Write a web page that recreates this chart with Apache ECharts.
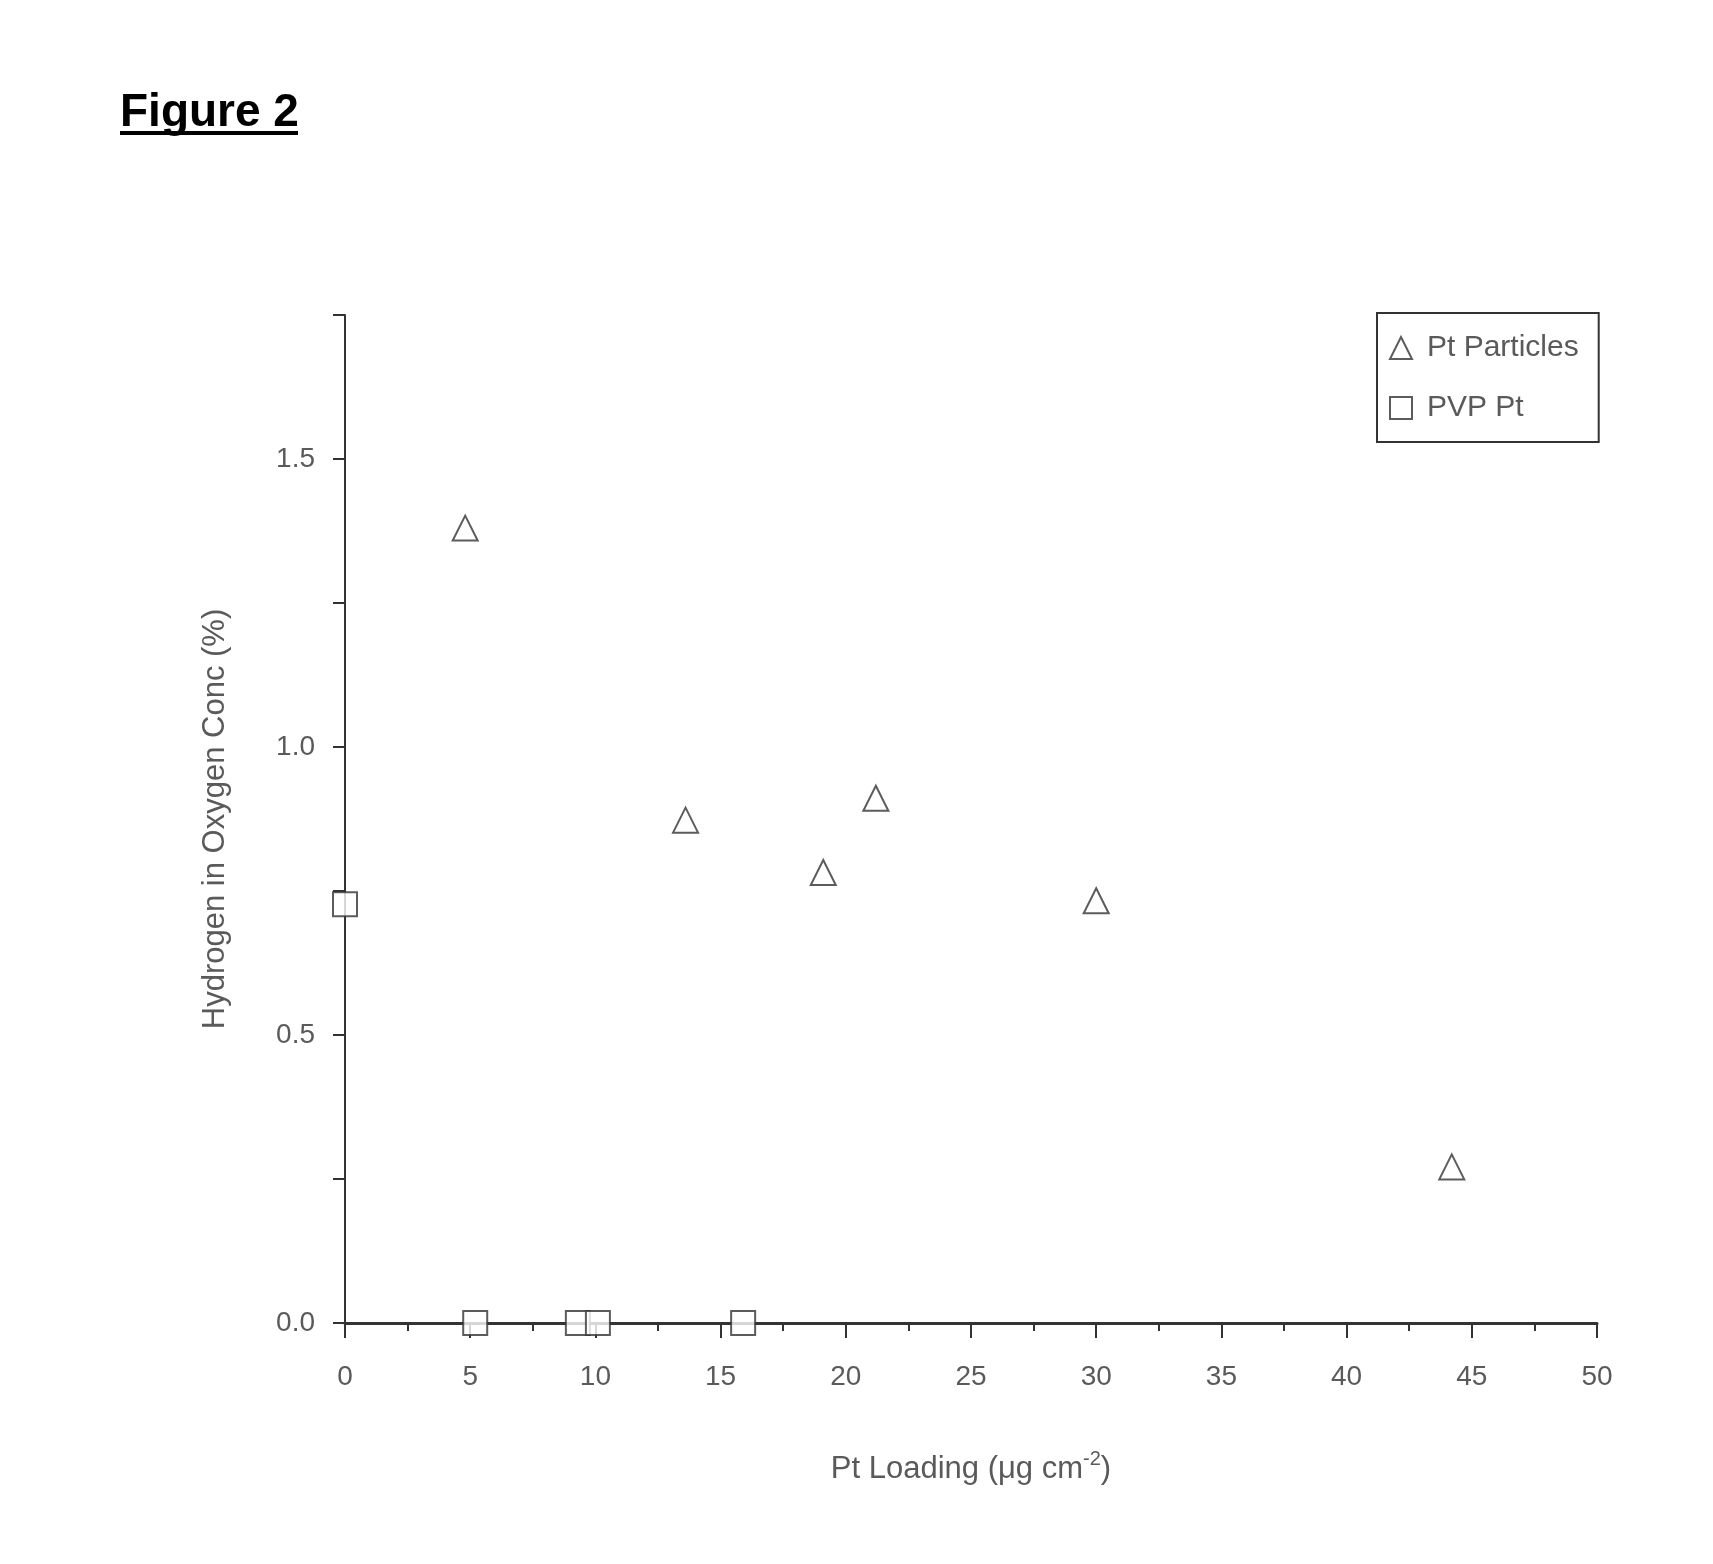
<!DOCTYPE html>
<html>
<head>
<meta charset="utf-8">
<script src="https://cdn.jsdelivr.net/npm/echarts@6/dist/echarts.min.js"></script>
<style>html,body{margin:0;padding:0;background:#fff;}#c{width:1713px;height:1564px;}</style>
</head>
<body>
<div id="c"></div>
<script>
// Data
const ptParticlesX = [4.8, 13.6, 19.1, 21.2, 30.0, 44.2];
const ptParticlesY = [1.38, 0.873, 0.782, 0.911, 0.733, 0.271];
const pvpPtX = [0, 5.2, 9.3, 10.1, 15.9];
const pvpPtY = [0.727, 0, 0, 0, 0];
const seriesNames = ['Pt Particles', 'PVP Pt'];
const xTitle = 'Pt Loading (μg cm{sup|-2})';
const yTitle = 'Hydrogen in Oxygen Conc (%)';
const figTitle = 'Figure 2';

const FONT = '"Liberation Sans", Arial, sans-serif';
const TXT = '#5a5a5a';
const LINE = '#333';

const chart = echarts.init(document.getElementById('c'), null, {renderer: 'canvas'});
chart.setOption({
  backgroundColor: '#fff',
  animation: false,
  textStyle: {fontFamily: FONT},
  grid: {left: 345, right: 116, top: 315, bottom: 241, containLabel: false},
  graphic: [
    {type: 'text', left: 120, top: 90, style: {text: figTitle, font: 'bold 46px ' + FONT, fill: '#000'}},
    {type: 'rect', left: 120, top: 131, shape: {width: 178, height: 4}, style: {fill: '#000'}}
  ],
  legend: {
    orient: 'vertical',
    left: 1377, top: 313,
    padding: [20, 20, 19, 12],
    itemGap: 30,
    itemWidth: 22, itemHeight: 22,
    borderColor: LINE, borderWidth: 2,
    textStyle: {fontSize: 30, color: TXT, fontFamily: FONT, padding: [0, 0, 0, 10]},
    data: seriesNames
  },
  xAxis: {
    type: 'value', min: 0, max: 50, interval: 5,
    name: xTitle, nameLocation: 'middle', nameGap: 126,
    nameTextStyle: {fontSize: 31, color: TXT, fontFamily: FONT,
      rich: {sup: {fontSize: 20, color: TXT, padding: [0, 0, 20, 0]}}},
    axisLine: {show: true, onZero: false, lineStyle: {color: LINE, width: 3}},
    axisTick: {show: true, length: 15, lineStyle: {color: LINE, width: 2}},
    minorTick: {show: true, splitNumber: 2, length: 8, lineStyle: {color: LINE, width: 2}},
    axisLabel: {fontSize: 28, color: TXT, margin: 40},
    splitLine: {show: false}
  },
  yAxis: {
    type: 'value', min: 0, max: 1.75, interval: 0.25,
    name: yTitle, nameLocation: 'middle', nameGap: 114, nameRotate: 90,
    nameTextStyle: {fontSize: 31, color: TXT, fontFamily: FONT},
    axisLine: {show: true, onZero: false, lineStyle: {color: LINE, width: 2}},
    axisTick: {show: true, length: 12, lineStyle: {color: LINE, width: 2}},
    axisLabel: {fontSize: 28, color: TXT, margin: 30,
      formatter: v => (Math.abs(v * 2 - Math.round(v * 2)) < 1e-6) ? v.toFixed(1) : ''},
    splitLine: {show: false}
  },
  series: [
    {
      name: seriesNames[0], type: 'scatter', symbol: 'triangle', symbolSize: 25,
      itemStyle: {color: '#fff', borderColor: LINE, borderWidth: 2},
      data: ptParticlesX.map((x, i) => [x, ptParticlesY[i]])
    },
    {
      name: seriesNames[1], type: 'scatter', symbol: 'rect', symbolSize: 24,
      itemStyle: {color: '#fff', borderColor: LINE, borderWidth: 2},
      clip: false,
      data: pvpPtX.map((x, i) => [x, pvpPtY[i]])
    }
  ]
});
</script>
</body>
</html>
